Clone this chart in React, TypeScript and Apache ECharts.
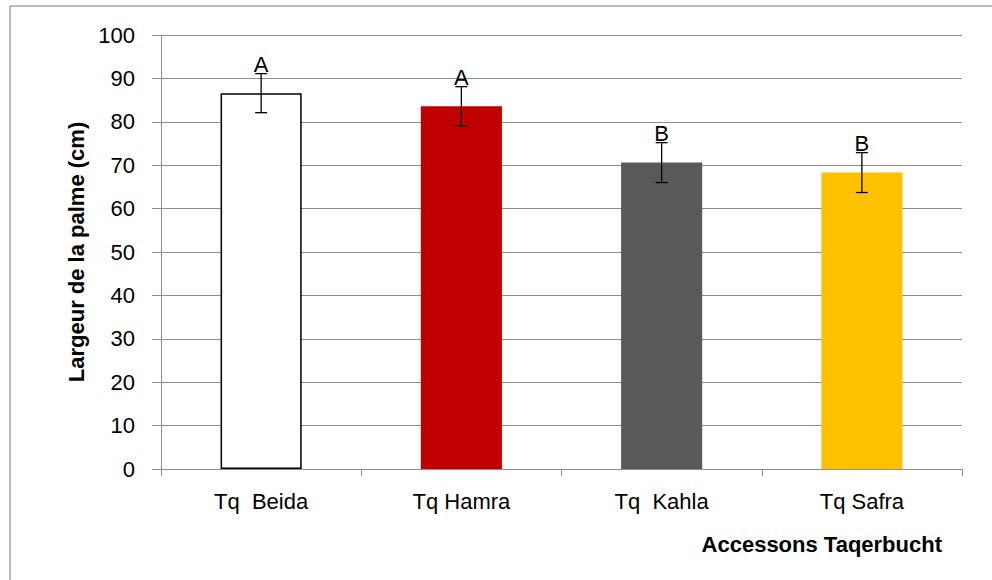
import React, { useEffect, useRef } from "react";
import * as echarts from "echarts";

// Palm width per Taqerbucht accession: mean, standard error and group letter
const categories = ["Tq  Beida", "Tq Hamra", "Tq  Kahla", "Tq Safra"];
const means = [86.6, 83.6, 70.6, 68.3];
const errors = [4.5, 4.5, 4.6, 4.6];
const groups = ["A", "A", "B", "B"];
const barColors = ["#FFFFFF", "#C00000", "#595959", "#FFC000"];
const yTicks = { min: 0, max: 100, interval: 10 };

const FONT = "'Liberation Sans', Arial, sans-serif";
const GRID_GREY = "#8e8e8e";

export default function App() {
  const ref = useRef<HTMLDivElement>(null);

  useEffect(() => {
    document.body.style.margin = "0";
    if (!ref.current) return;
    const chart = echarts.init(ref.current, undefined, { renderer: "svg" });

    const option: echarts.EChartsOption = {
      animation: false,
      backgroundColor: "#ffffff",
      grid: { left: 161, right: 30, top: 35, bottom: 111, containLabel: false },
      xAxis: {
        type: "category",
        data: categories,
        axisLine: { show: true, lineStyle: { color: GRID_GREY, width: 1 } },
        axisTick: { show: true, length: 7, lineStyle: { color: GRID_GREY } },
        axisLabel: {
          color: "#000",
          fontFamily: FONT,
          fontSize: 22,
          margin: 21,
        },
      },
      yAxis: {
        type: "value",
        min: yTicks.min,
        max: yTicks.max,
        interval: yTicks.interval,
        name: "Largeur de la palme (cm)",
        nameLocation: "middle",
        nameGap: 74,
        nameTextStyle: {
          color: "#000",
          fontFamily: FONT,
          fontSize: 22,
          fontWeight: "bold",
        },
        axisLine: { show: true, lineStyle: { color: GRID_GREY, width: 1 } },
        axisTick: { show: true, length: 9, lineStyle: { color: GRID_GREY } },
        axisLabel: {
          color: "#000",
          fontFamily: FONT,
          fontSize: 22,
          margin: 26,
        },
        splitLine: { show: true, lineStyle: { color: GRID_GREY, width: 1 } },
      },
      graphic: [
        // chart-area frame (left and top edges visible)
        {
          type: "line",
          shape: { x1: 10, y1: 6, x2: 10, y2: 600 },
          style: { stroke: "#a6a6a6", lineWidth: 1.5 },
        },
        {
          type: "line",
          shape: { x1: 10, y1: 6, x2: 1000, y2: 6 },
          style: { stroke: "#a6a6a6", lineWidth: 1.5 },
        },
        {
          type: "text",
          right: 50,
          top: 533,
          style: {
            text: "Accessons Taqerbucht",
            fill: "#000",
            font: `bold 22px ${FONT}`,
          },
        },
      ],
      series: [
        {
          type: "bar",
          barWidth: "40.5%",
          data: means.map((v, i) => ({
            value: v,
            itemStyle: {
              color: barColors[i],
              borderColor: i === 0 ? "#000" : barColors[i],
              borderWidth: i === 0 ? 1.5 : 0,
            },
          })),
          z: 2,
        },
        {
          type: "custom",
          z: 5,
          data: means.map((v, i) => [i, v, errors[i]]),
          renderItem: (params: any, api: any) => {
            const idx = api.value(0);
            const mean = api.value(1);
            const err = api.value(2);
            const hi = api.coord([idx, mean + err]);
            const lo = api.coord([idx, mean - err]);
            const x = hi[0];
            const half = 6;
            const stroke = { stroke: "#000", lineWidth: 1.3 };
            return {
              type: "group",
              children: [
                { type: "line", shape: { x1: x, y1: hi[1], x2: x, y2: lo[1] }, style: stroke },
                { type: "line", shape: { x1: x - half, y1: hi[1], x2: x + half, y2: hi[1] }, style: stroke },
                { type: "line", shape: { x1: x - half, y1: lo[1], x2: x + half, y2: lo[1] }, style: stroke },
                {
                  type: "text",
                  x: x,
                  y: hi[1] + 2,
                  style: {
                    text: groups[idx],
                    fill: "#000",
                    font: `22px ${FONT}`,
                    textAlign: "center",
                    textVerticalAlign: "bottom",
                  },
                },
              ],
            };
          },
        },
      ],
    };

    chart.setOption(option);
    return () => chart.dispose();
  }, []);

  return <div ref={ref} style={{ width: 992, height: 580 }} />;
}
